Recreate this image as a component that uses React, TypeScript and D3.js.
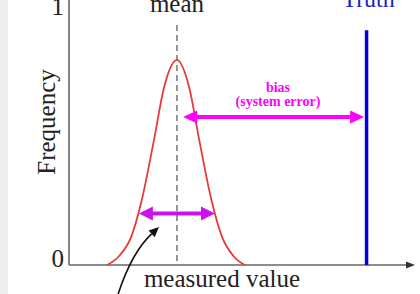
import React from "react";
import * as d3 from "d3";

const curveX = [1.1, 1.45, 1.8, 2.1, 2.45, 2.75, 3.12, 3.47, 3.77, 4.12, 4.42, 4.75, 5.08];
const curveY = [0.0, 0.035, 0.11, 0.25, 0.48, 0.69, 0.795, 0.69, 0.48, 0.25, 0.11, 0.035, 0.0];

const yTickValues = [0, 1];
const yTickLabels = ["0", "1"];

const meanValue = [3.12];
const truthValue = [8.6];
const biasRange = [3.3, 8.53];
const biasLevel = [0.574];
const spreadRange = [2.02, 4.22];
const spreadLevel = [0.2];

const W = 420;
const H = 294;

export default function App() {
  const x = d3.scaleLinear().domain([0, 10]).range([69, 415]);
  const y = d3.scaleLinear().domain([0, 1]).range([265, 7]);

  const pts: [number, number][] = curveX.map((v, i) => [v, curveY[i]]);
  const line = d3
    .line<[number, number]>()
    .x((d) => x(d[0]))
    .y((d) => y(d[1]))
    .curve(d3.curveMonotoneX);

  const serif = "'Liberation Serif', 'DejaVu Serif', serif";

  const arrowHead = (tipX: number, tipY: number, dir: number, len: number, half: number, color: string, key: string) => (
    <path
      key={key}
      d={`M${tipX},${tipY} L${tipX - dir * len},${tipY - half} L${tipX - dir * len},${tipY + half} Z`}
      fill={color}
    />
  );

  const bY = y(biasLevel[0]);
  const bX0 = x(biasRange[0]);
  const bX1 = x(biasRange[1]);
  const sY = y(spreadLevel[0]);
  const sX0 = x(spreadRange[0]);
  const sX1 = x(spreadRange[1]);
  const mag = "#ff00ff";
  const vio = "#cc11ee";

  const meanX = x(meanValue[0]);
  const truthX = x(truthValue[0]);

  // black pointer arrow
  const pStart: [number, number] = [x(1.42), y(-0.112)];
  const pTip: [number, number] = [x(2.6), y(0.147)];
  const pCtrl: [number, number] = [x(1.82), y(0.05)];
  const ang = Math.atan2(pTip[1] - pCtrl[1], pTip[0] - pCtrl[0]);
  const ah = 10;
  const aw = 4.5;
  const bx = pTip[0] - ah * Math.cos(ang);
  const by = pTip[1] - ah * Math.sin(ang);
  const px = -Math.sin(ang) * aw;
  const py = Math.cos(ang) * aw;

  return (
    <svg
      width={W}
      height={H}
      style={{ position: "absolute", left: 0, top: 0, background: "#ffffff" }}
    >
      <rect x={0} y={0} width={W} height={H} fill="#ffffff" />
      <rect x={0} y={0} width={8} height={H} fill="#eeeeee" />

      {/* axes */}
      <line x1={x(0)} y1={0} x2={x(0)} y2={y(0)} stroke="#666" strokeWidth={1.6} />
      <line x1={x(0)} y1={y(0)} x2={x(10) - 6} y2={y(0)} stroke="#666" strokeWidth={1.6} />
      <path d={`M${x(10)},${y(0)} L${x(10) - 9},${y(0) - 3.5} L${x(10) - 9},${y(0) + 3.5} Z`} fill="#333" />

      {yTickValues.map((v, i) => (
        <text
          key={v}
          x={x(0) - 5}
          y={i === 0 ? y(v) + 2 : y(v) + 8}
          textAnchor="end"
          fontFamily={serif}
          fontSize={25}
          fill="#222"
        >
          {yTickLabels[i]}
        </text>
      ))}

      <text
        transform={`translate(55,${122}) rotate(-90)`}
        textAnchor="middle"
        fontFamily={serif}
        fontSize={25}
        fill="#222"
      >
        Frequency
      </text>

      <text x={222} y={287} textAnchor="middle" fontFamily={serif} fontSize={25} fill="#222">
        measured value
      </text>

      {/* mean */}
      <line
        x1={meanX}
        y1={y(0.93)}
        x2={meanX}
        y2={y(0)}
        stroke="#777"
        strokeWidth={1.5}
        strokeDasharray="6,4"
      />
      <text x={meanX} y={12} textAnchor="middle" fontFamily={serif} fontSize={25} fill="#222">
        mean
      </text>

      {/* truth */}
      <line x1={truthX} y1={y(0.91)} x2={truthX} y2={y(0)} stroke="#0000dd" strokeWidth={3.5} />
      <text x={truthX + 2} y={7} textAnchor="middle" fontFamily={serif} fontSize={24} fill="#2222bb">
        Truth
      </text>

      {/* distribution */}
      <path d={line(pts) || ""} fill="none" stroke="#e83a3a" strokeWidth={1.8} />

      {/* bias arrow */}
      <line x1={bX0 + 10} y1={bY} x2={bX1 - 10} y2={bY} stroke={mag} strokeWidth={4} />
      {arrowHead(bX0, bY, -1, 14, 6.5, mag, "bl")}
      {arrowHead(bX1, bY, 1, 14, 6.5, mag, "br")}
      <text x={278} y={92} textAnchor="middle" fontFamily={serif} fontWeight="bold" fontSize={14} fill={mag}>
        bias
      </text>
      <text x={278} y={106} textAnchor="middle" fontFamily={serif} fontWeight="bold" fontSize={14} fill={mag}>
        (system error)
      </text>

      {/* spread arrow */}
      <line x1={sX0 + 10} y1={sY} x2={sX1 - 10} y2={sY} stroke={vio} strokeWidth={4} />
      {arrowHead(sX0, sY, -1, 14, 7, vio, "sl")}
      {arrowHead(sX1, sY, 1, 14, 7, vio, "sr")}

      {/* pointer arrow */}
      <path
        d={`M${pStart[0]},${pStart[1]} Q${pCtrl[0]},${pCtrl[1]} ${bx},${by}`}
        fill="none"
        stroke="#111"
        strokeWidth={1.6}
      />
      <path
        d={`M${pTip[0]},${pTip[1]} L${bx + px},${by + py} L${bx - px},${by - py} Z`}
        fill="#111"
      />
    </svg>
  );
}
